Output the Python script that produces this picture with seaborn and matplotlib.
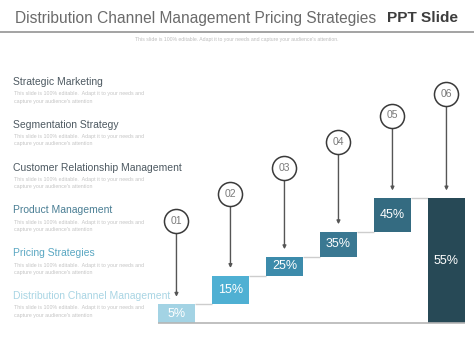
import numpy as np
import matplotlib
matplotlib.use("Agg")
from matplotlib import pyplot as plt
import seaborn as sns

# Step chart data
steps = ["01", "02", "03", "04", "05", "06"]
pct_labels = ["5%", "15%", "25%", "35%", "45%", "55%"]
increments = [15, 23, 15, 20, 27]          # rise of each step, the last bar is the total

headings = ["Strategic Marketing", "Segmentation Strategy", "Customer Relationship Management",
            "Product Management", "Pricing Strategies", "Distribution Channel Management"]
heading_colors = ["#4d5961", "#4d5961", "#4d5961", "#4a7e94", "#5aa7c2", "#a9d5e4"]
bar_colors = ["#a3d3e4", "#4fb0d3", "#3c8bab", "#3a7892", "#346b81", "#274956"]
blurb = "This slide is 100% editable.  Adapt it to your needs and\ncapture your audience's attention"
subtitle = "This slide is 100% editable. Adapt it to your needs and capture your audience's attention."

heights = np.array(increments + [sum(increments)], dtype=float)
bottoms = np.concatenate([np.cumsum([0] + increments[:-1]), [0]]).astype(float)
tops = bottoms + heights

sns.set_style("white")
plt.rcParams['font.family'] = ['Liberation Sans', 'DejaVu Sans']

W, H = 474, 355
fig = plt.figure(figsize=(W / 100, H / 100), dpi=100)

def fy(y):
    return 1 - y / H

# Title block
fig.text(15 / W, fy(18), "Distribution Channel Management Pricing Strategies",
         fontsize=11.2, color="#6b6b6b", va="center", ha="left")
fig.text(387 / W, fy(18), "PPT Slide", fontsize=11.1, color="#3d3d3d",
         fontweight="bold", va="center", ha="left")
fig.add_artist(plt.Line2D([0, 1], [fy(32), fy(32)], color="#8a8a8a", lw=1.1))
fig.text(0.5, fy(40), subtitle, fontsize=3.7, color="#bdbdbd", ha="center", va="center")

# Left list
for i, (h, c) in enumerate(zip(headings, heading_colors)):
    y0 = 82 + i * 42.8
    fig.text(13 / W, fy(y0), h, fontsize=7.5, color=c, va="center", ha="left")
    fig.text(14 / W, fy(y0 + 15.5), blurb, fontsize=3.75, color="#c4c4c4",
             va="center", ha="left", linespacing=1.5)

# Step chart
ax = fig.add_axes([150 / W, 32 / H, 324 / W, 263 / H])
bw = 0.68
sns.barplot(x=steps, y=heights, bottom=bottoms, width=bw, color=bar_colors[0],
            ax=ax, linewidth=0, saturation=1)
for p, c in zip(ax.patches, bar_colors):
    p.set_facecolor(c)
ax.bar_label(ax.containers[0], labels=pct_labels, label_type="center",
             color="white", fontsize=9)

xs = np.arange(len(steps))
ax.hlines(tops[:-1], xs[:-1] + bw / 2, xs[1:] - bw / 2, color="#cdcdcd", lw=1, zorder=0)
ax.hlines(0, -bw / 2, xs[-1] + bw / 2, color="#b5b5b5", lw=1.2, clip_on=False)

circle_y = 82 + 21 * xs
circle_y[-1] = 183
ax.scatter(xs, circle_y, s=300, facecolor="white", edgecolor="#3a3a3a", linewidth=1.1, zorder=4)
for x, cy, t, s in zip(xs, circle_y, tops, steps):
    ax.annotate("", xy=(x, t + 6), xytext=(x, cy),
                arrowprops=dict(arrowstyle="-|>", color="#555555", lw=1,
                                shrinkA=8.5, shrinkB=0, mutation_scale=5))
    ax.text(x, cy, s, ha="center", va="center", fontsize=7.5, color="#7a7a7a", zorder=5)

ax.set_xlim(-0.49, 5.51)
ax.set_ylim(0, 210.4)
ax.axis("off")

plt.savefig("out.png", dpi=100)
